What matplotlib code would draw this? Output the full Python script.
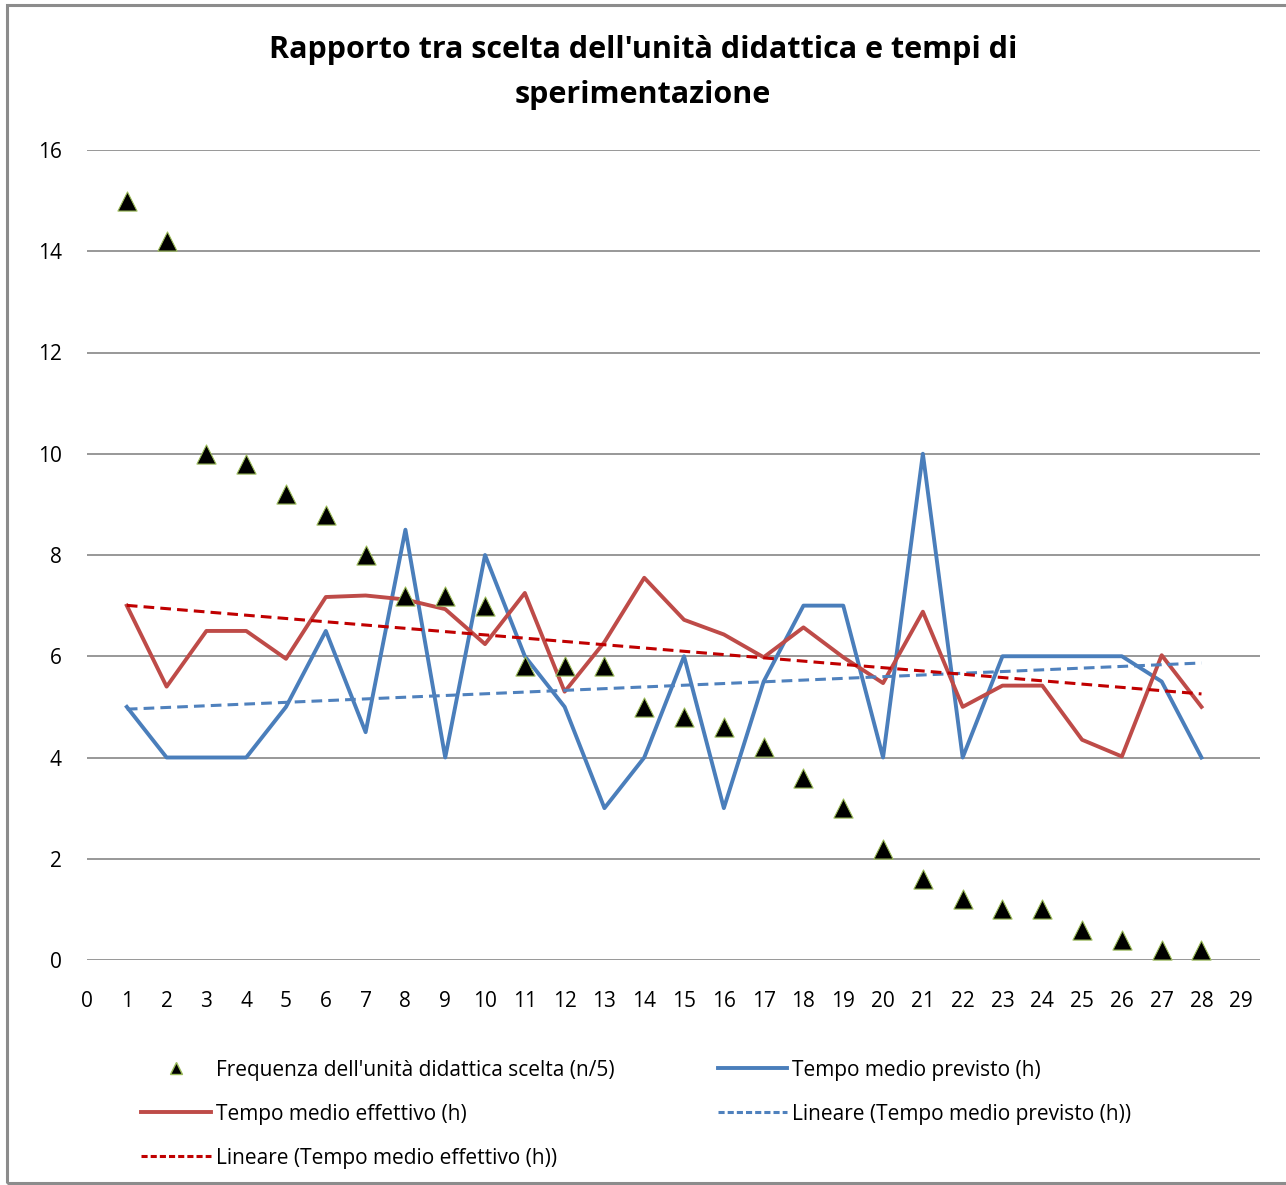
import numpy as np
import matplotlib
matplotlib.use("Agg")
import matplotlib.pyplot as plt
from matplotlib.patches import Rectangle
from matplotlib.lines import Line2D

# dati
unita = list(range(1, 29))
frequenza = [15, 14.2, 10, 9.8, 9.2, 8.8, 8, 7.2, 7.2, 7, 5.8, 5.8, 5.8, 5, 4.8, 4.6,
             4.2, 3.6, 3, 2.2, 1.6, 1.2, 1, 1, 0.6, 0.4, 0.2, 0.2]
tempo_previsto = [5, 4, 4, 4, 5, 6.5, 4.5, 8.5, 4, 8, 6, 5, 3, 4, 6, 3,
                  5.5, 7, 7, 4, 10, 4, 6, 6, 6, 6, 5.5, 4]
tempo_effettivo = [7, 5.4, 6.5, 6.5, 5.95, 7.17, 7.2, 7.12, 6.93, 6.24, 7.25, 5.3, 6.28, 7.55, 6.72, 6.43,
                   5.98, 6.57, 5.98, 5.47, 6.88, 5.0, 5.42, 5.42, 4.35, 4.02, 6.02, 5.0]

yticks = list(range(0, 17, 2))
xticks = list(range(0, 30))

plt.rcParams['font.family'] = ['Open Sans', 'DejaVu Sans']

fig = plt.figure(figsize=(12.86, 11.85), dpi=100)
ax = fig.add_axes([87/1286, 1 - 960/1185, 1173/1286, 810/1185])

x = np.array(unita)
blu = '#4A7EBB'
rosso = '#BE4B48'

ax.plot(x, tempo_previsto, color=blu, lw=2.8, zorder=3)
ax.plot(x, tempo_effettivo, color=rosso, lw=2.8, zorder=3)

# linee di tendenza
cp = np.polyfit(x, tempo_previsto, 1)
ce = np.polyfit(x, tempo_effettivo, 1)
ax.plot(x, np.polyval(cp, x), color='#4F81BD', lw=2.2, ls=(0, (3.5, 2)), zorder=4)
ax.plot(x, np.polyval(ce, x), color='#C00000', lw=2.2, ls=(0, (3.5, 2)), zorder=4)

ax.scatter(x, frequenza, marker='^', s=190, color='black', edgecolors='#9BBB59',
           linewidths=0.8, zorder=5)

ax.set_xlim(0, 29.47)
ax.set_ylim(0, 16)
ax.set_xticks(xticks)
ax.set_yticks(yticks)
ax.tick_params(length=0, labelsize=15)
ax.tick_params(axis='x', pad=22)
ax.tick_params(axis='y', pad=18)
ax.grid(axis='y', color='#868686', lw=1.2)
ax.set_axisbelow(True)
for s in ax.spines.values():
    s.set_visible(False)

fig.text(0.5, 1 - 50/1185, "Rapporto tra scelta dell'unità didattica e tempi di",
         ha='center', va='center', fontsize=22, fontweight='bold')
fig.text(0.5, 1 - 95/1185, "sperimentazione",
         ha='center', va='center', fontsize=22, fontweight='bold')

h_freq = Line2D([], [], ls='none', marker='^', color='black', markeredgecolor='#9BBB59', markersize=9)
h_prev = Line2D([], [], color=blu, lw=2.8)
h_eff = Line2D([], [], color=rosso, lw=2.8)
h_lprev = Line2D([], [], color='#4F81BD', lw=2.2, ls=(0, (2, 1)))
h_leff = Line2D([], [], color='#C00000', lw=2.2, ls=(0, (2, 1)))
handles = [h_freq, h_eff, h_leff, h_prev, h_lprev]
labels = ["Frequenza dell'unità didattica scelta (n/5)", "Tempo medio effettivo (h)",
          "Lineare (Tempo medio effettivo (h))", "Tempo medio previsto (h)",
          "Lineare (Tempo medio previsto (h))"]
fig.legend(handles, labels, ncol=2, loc='upper left', bbox_to_anchor=(122/1286, 1 - 1041/1185),
           frameon=False, handlelength=3.35, handletextpad=0.25, columnspacing=4.95,
           labelspacing=1.1, prop={'size': 15})

fig.patches.append(Rectangle((7/1286, 2/1185), 1.2, 1 - 7/1185, transform=fig.transFigure,
                             fill=False, edgecolor='#8C8C8C', lw=2.2))

fig.savefig('out.png', dpi=100)
